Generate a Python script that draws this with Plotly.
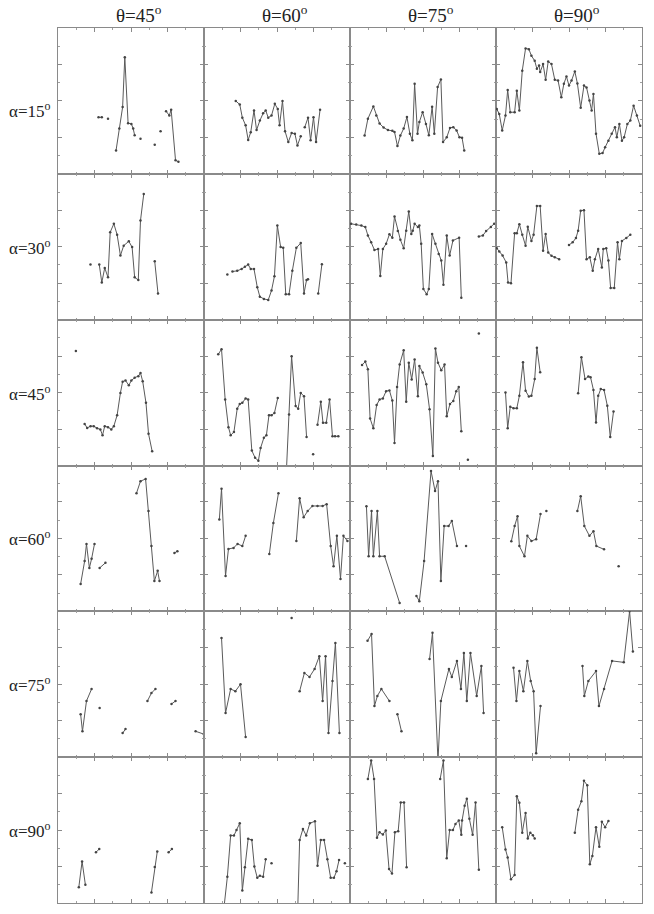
import plotly.graph_objects as go
from plotly.subplots import make_subplots

# column / row parameters
thetas = [45, 60, 75, 90]
alphas = [15, 30, 45, 60, 75, 90]

# each panel: (x, y) points on a 0-4 scale, None breaks the line
a15_t45 = [(1.11, 1.55), (1.2, 1.55), None, (1.37, 1.51), None,
           (1.59, 0.64), (1.68, 1.24), (1.77, 1.83), (1.83, 3.2), (1.92, 1.39), (2.01, 1.37),
           (2.06, 1.24), (2.1, 1.06), None, (2.26, 0.96), None, (2.65, 0.8), None, (2.81, 1.17), None,
           (2.96, 1.72), (3.05, 1.6), (3.1, 1.76), (3.22, 0.37), (3.3, 0.33)]
a15_t60 = [(0.87, 2.0), (0.98, 1.9), (1.05, 1.54), (1.14, 1.33), (1.21, 0.93), (1.28, 1.14),
           (1.37, 1.74), (1.44, 1.2), (1.53, 1.46), (1.62, 1.66), (1.69, 1.74), (1.76, 1.54),
           (1.85, 1.6), (1.94, 1.92), (2.02, 1.78), (2.07, 1.33), (2.15, 2.0), (2.22, 1.17),
           (2.31, 0.87), (2.4, 1.12), (2.49, 1.1), (2.56, 0.78), (2.65, 1.03), None,
           (2.76, 1.28), (2.85, 1.54), (2.92, 0.92), (3.0, 1.55), (3.07, 0.87), (3.18, 1.76)]
a15_t75 = [(0.4, 1.05), (0.49, 1.51), (0.64, 1.85), (0.72, 1.6), (0.81, 1.38), (0.92, 1.27),
           (1.04, 1.2), (1.16, 1.18), (1.22, 1.15), (1.3, 0.76), (1.38, 1.05), (1.47, 1.24),
           (1.56, 1.56), (1.64, 1.1), (1.71, 0.92), (1.77, 2.47), (1.85, 1.1), (1.9, 1.42),
           (1.99, 1.69), (2.08, 1.37), (2.16, 1.06), (2.25, 1.84), (2.31, 1.1), (2.4, 2.38),
           (2.49, 2.59), (2.55, 0.87), (2.65, 1.0), (2.74, 1.26), (2.83, 1.28), (2.92, 1.19),
           (3.0, 1.0), (3.07, 0.99), (3.13, 0.64)]
a15_t90 = [(0.02, 1.78), (0.09, 1.64), (0.17, 1.19), (0.26, 1.6), (0.32, 2.3), (0.39, 1.69),
           (0.51, 1.69), (0.57, 2.28), (0.64, 1.74), (0.72, 2.83), (0.81, 3.44), (0.9, 3.42),
           (0.97, 3.24), (1.06, 3.1), (1.12, 2.88), (1.18, 2.97), (1.21, 2.79), (1.29, 3.01),
           (1.36, 2.58), (1.43, 3.08), (1.52, 3.01), (1.61, 2.58), (1.7, 2.56), (1.79, 2.1),
           (1.86, 2.47), (1.93, 2.67), (2.0, 2.42), (2.07, 2.56), (2.16, 2.81), (2.23, 2.48),
           (2.32, 1.81), (2.41, 2.42), (2.48, 2.37), (2.56, 2.01), (2.62, 1.74), (2.67, 2.19),
           (2.74, 1.1), (2.83, 0.55), (2.92, 0.57), (2.99, 0.73), (3.08, 0.91), (3.17, 1.1),
           (3.26, 1.28), (3.31, 1.0), (3.38, 1.37), (3.45, 0.91), (3.51, 1.0), (3.6, 1.37),
           (3.68, 1.46), (3.77, 1.87), (3.86, 1.6), (3.95, 1.32)]

a30_t45 = [(0.89, 1.51), None, (1.13, 1.51), (1.2, 1.02), (1.28, 1.42), (1.37, 1.16), (1.43, 2.4),
           (1.53, 2.63), (1.62, 2.33), (1.71, 1.76), (1.8, 2.03), (1.94, 2.15), (2.03, 1.99),
           (2.1, 1.16), (2.2, 1.09), (2.26, 2.72), (2.35, 3.45), None, (2.65, 1.6), (2.74, 0.72)]
a30_t60 = [(0.64, 1.24), None, (0.78, 1.32), (0.91, 1.34), (1.03, 1.39), (1.12, 1.45), (1.21, 1.51),
           (1.28, 1.39), (1.37, 1.39), (1.46, 0.89), (1.53, 0.63), (1.64, 0.57), (1.76, 0.54),
           (1.85, 0.8), (1.93, 1.19), (2.01, 2.58), (2.1, 1.99), (2.17, 1.97), (2.24, 0.7),
           (2.33, 0.7), (2.42, 1.34), (2.53, 1.97), (2.65, 2.1), (2.74, 0.72), (2.81, 1.09),
           (2.85, 1.11), None, (3.13, 0.72), (3.23, 1.52)]
a30_t75 = [(0.03, 2.63), (0.17, 2.61), (0.31, 2.58), (0.42, 2.54), (0.49, 2.31), (0.58, 2.12),
           (0.67, 1.91), (0.77, 1.94), (0.83, 1.2), (0.9, 1.94), (0.99, 2.08), (1.08, 2.34),
           (1.16, 2.25), (1.22, 2.83), (1.31, 2.43), (1.38, 2.19), (1.47, 1.96), (1.54, 2.44),
           (1.61, 2.97), (1.68, 2.35), (1.72, 2.44), (1.77, 2.63), (1.86, 2.54), (1.9, 2.58),
           (1.95, 2.08), (2.01, 0.84), (2.1, 0.7), (2.16, 0.84), (2.25, 2.35), (2.34, 2.08),
           (2.43, 1.8), (2.5, 1.62), (2.56, 0.96), (2.65, 2.31), (2.73, 1.76), (2.82, 2.17),
           (2.99, 2.25), (3.05, 0.6), None,
           (3.53, 2.28), (3.64, 2.31), (3.73, 2.43), (3.86, 2.54), (3.95, 2.63)]
a30_t90 = [(0.02, 1.96), (0.09, 1.87), (0.18, 1.76), (0.28, 1.57), (0.33, 1.02), (0.41, 1.0),
           (0.51, 2.37), (0.57, 2.37), (0.64, 2.62), (0.72, 2.33), (0.81, 2.03), (0.87, 2.55),
           (0.97, 2.16), (1.03, 2.33), (1.12, 3.12), (1.21, 3.12), (1.29, 1.89), (1.36, 2.35),
           (1.43, 1.84), (1.52, 1.75), (1.61, 1.71), (1.73, 1.66), None,
           (2.0, 2.05), (2.1, 2.12), (2.19, 2.24), (2.25, 2.44), (2.32, 2.99), (2.41, 3.0),
           (2.48, 1.66), (2.57, 1.71), (2.65, 1.34), (2.71, 1.66), (2.8, 1.94), (2.9, 1.43),
           (2.94, 1.94), (3.02, 1.96), (3.08, 1.62), (3.14, 0.87), (3.24, 0.87), (3.33, 2.12),
           (3.38, 1.66), (3.45, 2.16), (3.57, 2.24), (3.68, 2.33)]

a45_t45 = [(0.49, 3.14), None, (0.73, 1.14), (0.8, 1.03), (0.89, 1.08), (0.98, 1.08), (1.07, 1.02),
           (1.16, 0.99), (1.22, 0.83), (1.28, 1.08), (1.37, 1.05), (1.46, 0.99), (1.53, 1.08),
           (1.62, 1.38), (1.71, 1.99), (1.77, 2.3), (1.85, 2.33), (1.94, 2.2), (2.01, 2.33),
           (2.1, 2.41), (2.2, 2.45), (2.26, 2.54), (2.32, 2.31), (2.41, 1.72), (2.48, 0.87),
           (2.58, 0.39)]
a45_t60 = [(0.39, 3.05), (0.48, 3.19), (0.58, 1.81), (0.67, 1.05), (0.73, 0.83), (0.82, 0.92),
           (0.91, 1.56), (0.98, 1.69), (1.05, 1.72), (1.14, 1.84), (1.21, 1.81), (1.31, 0.41),
           (1.4, 0.21), (1.49, 0.13), (1.55, 0.48), (1.64, 0.76), (1.71, 0.83), (1.78, 1.38),
           (1.85, 1.38), (1.93, 1.44), (2.02, 1.85), None,
           (2.26, -0.1), (2.33, 1.4), (2.4, 3.0), (2.51, 1.63), (2.58, 1.56), (2.65, 1.99),
           (2.74, 1.9), (2.81, 0.78), None, (2.99, 0.31), None,
           (3.11, 1.12), (3.2, 1.75), (3.26, 1.17), (3.35, 1.17), (3.44, 1.81), (3.52, 0.8),
           (3.59, 0.8), (3.68, 0.8)]
a45_t75 = [(0.33, 2.76), (0.42, 2.85), (0.49, 2.64), (0.55, 1.29), (0.64, 1.02), (0.73, 1.66),
           (0.81, 1.81), (0.9, 1.84), (0.99, 2.04), (1.08, 2.06), (1.16, 1.78), (1.22, 0.62),
           (1.29, 2.15), (1.36, 2.77), (1.47, 3.16), (1.54, 1.75), (1.61, 2.82), (1.69, 2.36),
           (1.77, 2.91), (1.86, 1.9), (1.9, 2.73), (1.99, 2.55), (2.09, 2.23), (2.18, 1.54),
           (2.27, 0.26), (2.34, 3.21), (2.41, 2.82), (2.5, 2.61), (2.59, 2.77), (2.65, 1.35),
           (2.74, 1.69), (2.83, 1.77), (2.91, 2.04), (2.98, 2.15), (3.05, 0.94), None,
           (3.23, 0.16), None, (3.53, 3.62)]
a45_t90 = [(0.26, 2.0), (0.32, 1.02), (0.39, 1.61), (0.48, 1.57), (0.57, 1.57), (0.64, 1.91),
           (0.74, 2.83), (0.81, 2.05), (0.9, 1.89), (0.97, 1.91), (1.06, 2.37), (1.12, 3.23),
           (1.21, 2.56), None,
           (2.25, 1.98), (2.34, 2.97), (2.44, 2.37), (2.53, 2.44), (2.59, 2.42), (2.67, 2.07),
           (2.74, 1.18), (2.8, 1.91), (2.87, 2.1), (2.96, 2.07), (3.05, 1.64), (3.13, 0.78),
           (3.22, 1.48)]

a60_t45 = [(0.62, 0.75), (0.73, 1.38), (0.78, 1.85), (0.86, 1.19), (0.92, 1.44), (1.0, 1.85), None,
           (1.14, 1.19), (1.3, 1.33), None,
           (2.15, 3.24), (2.26, 3.57), (2.4, 3.63), (2.48, 2.75), (2.56, 1.79), (2.64, 0.83),
           (2.73, 1.11), (2.78, 0.83), None, (3.19, 1.6), (3.27, 1.65)]
a60_t60 = [(0.42, 2.52), (0.48, 3.36), (0.59, 0.97), (0.67, 1.71), (0.81, 1.74), (0.92, 1.85),
           (1.05, 1.79), (1.14, 2.07), None,
           (1.79, 1.57), (1.9, 2.42), (2.04, 3.24), None,
           (2.53, 1.93), (2.62, 3.1), (2.73, 2.58), (2.84, 2.75), (2.97, 2.89), (3.11, 2.89),
           (3.25, 2.89), (3.36, 2.94), (3.47, 1.79), (3.55, 1.24), (3.64, 2.07), (3.74, 0.89),
           (3.82, 2.07), (3.93, 1.93)]
a60_t75 = [(0.45, 2.88), (0.51, 1.51), (0.59, 2.75), (0.64, 1.51), (0.75, 2.75), (0.81, 1.51),
           (0.95, 1.51), (1.36, 0.23), None,
           (1.82, 0.42), (1.9, 0.28), (2.03, 1.38), (2.22, 3.85), (2.33, 3.3), (2.41, 3.57),
           (2.49, 0.83), (2.58, 2.34), (2.7, 2.34), (2.79, 2.48), (2.93, 1.79), None, (3.18, 1.79)]
a60_t90 = [(0.42, 1.92), (0.51, 2.34), (0.59, 2.61), (0.64, 1.79), (0.78, 1.51), (0.86, 2.07),
           (0.97, 1.93), (1.1, 1.98), (1.22, 2.67), None, (1.38, 2.75), None,
           (2.23, 2.75), (2.32, 3.16), (2.42, 2.34), (2.56, 2.07), (2.67, 2.2), (2.75, 1.79),
           (2.96, 1.7), None, (3.36, 1.24)]

a75_t45 = [(0.62, 1.18), (0.67, 0.71), (0.78, 1.54), (0.92, 1.87), None, (1.14, 1.35), None,
           (1.77, 0.66), (1.85, 0.77), None, (2.45, 1.54), (2.56, 1.76), (2.67, 1.87), None,
           (3.11, 1.46), (3.22, 1.54), None, (3.77, 0.71), (4.0, 0.63)]
a75_t60 = [(0.48, 3.27), (0.59, 1.21), (0.73, 1.87), (0.86, 1.81), (1.0, 2.0), (1.14, 0.55), None,
           (2.4, 3.82), None,
           (2.62, 1.81), (2.75, 2.31), (2.89, 2.2), (3.03, 2.42), (3.16, 2.77), (3.25, 1.54),
           (3.33, 2.77), (3.41, 0.66), (3.52, 2.09), (3.6, 3.13), (3.71, 0.66)]
a75_t75 = [(0.48, 3.19), (0.59, 3.38), (0.67, 1.4), (0.75, 1.68), (0.86, 1.87), (1.08, 1.54), None,
           (1.3, 1.18), (1.41, 0.71), None,
           (2.18, 2.69), (2.26, 3.41), (2.41, -0.1), (2.49, 1.54), (2.71, 2.42), (2.79, 2.2),
           (2.93, 2.64), (3.04, 1.87), (3.12, 2.86), (3.2, 1.54), (3.3, 2.86), (3.47, 1.68),
           (3.6, 2.5), (3.66, 1.21)]
a75_t90 = [(0.48, 2.45), (0.56, 1.54), (0.64, 2.36), (0.75, 1.81), (0.86, 2.64), (0.95, 2.09),
           (1.03, 1.81), (1.1, 0.11), (1.22, 1.4), None,
           (2.37, 2.5), (2.42, 1.68), (2.53, 2.09), (2.74, 2.36), (2.82, 1.4), (2.96, 1.87),
           (3.18, 2.64), (3.5, 2.6), (3.66, 4.0), (3.75, 2.9)]

a90_t45 = [(0.57, 0.43), (0.66, 1.14), (0.75, 0.5), None, (1.04, 1.39), (1.13, 1.48), None,
           (2.56, 0.29), (2.65, 0.99), (2.72, 1.41), None, (3.03, 1.39), (3.12, 1.48)]
a90_t60 = [(0.55, -0.1), (0.64, 0.72), (0.73, 1.85), (0.82, 1.85), (0.89, 2.0), (0.98, 2.19),
           (1.05, 0.34), (1.12, 0.98), (1.21, 1.76), (1.31, 1.73), (1.38, 1.0), (1.46, 0.69),
           (1.53, 0.75), (1.62, 0.72), (1.69, 1.2), None, (1.85, 1.09), None,
           (2.57, -0.1), (2.62, 1.73), (2.71, 2.03), (2.8, 1.85), (2.9, 2.19), (3.04, 2.24),
           (3.11, 1.02), (3.2, 1.73), (3.29, 1.73), (3.38, 1.2), (3.47, 0.69), (3.56, 0.69),
           (3.63, 0.87), (3.7, 1.18), None, (3.86, 1.09)]
a90_t75 = [(0.49, 3.4), (0.58, 3.91), (0.66, 3.4), (0.74, 1.79), (0.81, 1.94), (0.9, 1.88),
           (0.98, 1.99), (1.07, 0.93), (1.15, 0.81), (1.23, 1.94), (1.32, 1.97), (1.39, 2.76),
           (1.48, 2.76), (1.55, 0.98), None,
           (2.47, 3.4), (2.56, 3.91), (2.65, 1.23), (2.73, 2.0), (2.82, 2.0), (2.89, 2.17),
           (2.98, 2.26), (3.05, 1.87), (3.07, 2.26), (3.14, 2.67), (3.2, 2.86), (3.27, 2.31),
           (3.36, 1.87), (3.44, 2.76), (3.53, 0.91)]
a90_t90 = [(0.17, 2.08), (0.26, 1.47), (0.32, 1.25), (0.41, 0.65), (0.51, 0.77), (0.57, 2.93),
           (0.64, 2.75), (0.72, 1.93), (0.81, 2.47), (0.87, 1.77), (0.94, 1.93), (1.01, 1.86),
           (1.06, 1.77), None,
           (2.16, 1.93), (2.25, 2.56), (2.34, 2.79), (2.41, 3.35), (2.5, 3.23), (2.57, 1.06),
           (2.64, 1.29), (2.74, 2.08), (2.83, 1.54), (2.9, 2.23), (2.99, 2.08), (3.08, 2.25)]

grid = [
    [a15_t45, a15_t60, a15_t75, a15_t90],
    [a30_t45, a30_t60, a30_t75, a30_t90],
    [a45_t45, a45_t60, a45_t75, a45_t90],
    [a60_t45, a60_t60, a60_t75, a60_t90],
    [a75_t45, a75_t60, a75_t75, a75_t90],
    [a90_t45, a90_t60, a90_t75, a90_t90],
]


def split(points):
    xs, ys = [], []
    for p in points:
        if p is None:
            xs.append(None)
            ys.append(None)
        else:
            xs.append(p[0])
            ys.append(p[1])
    return xs, ys


fig = make_subplots(rows=6, cols=4, horizontal_spacing=0, vertical_spacing=0)

for r, row in enumerate(grid):
    for c, pts in enumerate(row):
        xs, ys = split(pts)
        fig.add_trace(go.Scatter(x=xs, y=ys, mode='lines+markers',
                                 line=dict(color='#5a5a5a', width=1),
                                 marker=dict(size=2.5, color='#444444'),
                                 connectgaps=False, showlegend=False),
                      row=r + 1, col=c + 1)

axis_style = dict(range=[0, 4], tick0=0, dtick=1, ticks='inside', ticklen=4, tickwidth=1,
                  tickcolor='#8a8a8a', showticklabels=False, showgrid=False, zeroline=False,
                  showline=True, linecolor='#8a8a8a', linewidth=1, mirror='ticks',
                  minor=dict(dtick=0.5, ticks='inside', ticklen=2, tickcolor='#a0a0a0'))
fig.update_xaxes(**axis_style)
fig.update_yaxes(**axis_style)

serif = 'Liberation Serif'
for c, th in enumerate(thetas):
    fig.add_annotation(text=f'θ={th}<sup>o</sup>', x=(c + 0.5) / 4, y=1, xref='paper', yref='paper',
                       xanchor='center', yanchor='bottom', xshift=8, yshift=0, showarrow=False,
                       font=dict(family=serif, size=19, color='#222222'))
for r, al in enumerate(alphas):
    fig.add_annotation(text=f'α={al}<sup>o</sup>', x=0, y=1 - (r + 0.5) / 6, xref='paper', yref='paper',
                       xanchor='right', yanchor='middle', xshift=-5, yshift=-9 if r == 0 else 0,
                       showarrow=False, font=dict(family=serif, size=17, color='#222222'))

fig.update_layout(width=654, height=914, margin=dict(l=50, r=20, t=20, b=19),
                  plot_bgcolor='white', paper_bgcolor='white')

fig.write_html("out.html")
